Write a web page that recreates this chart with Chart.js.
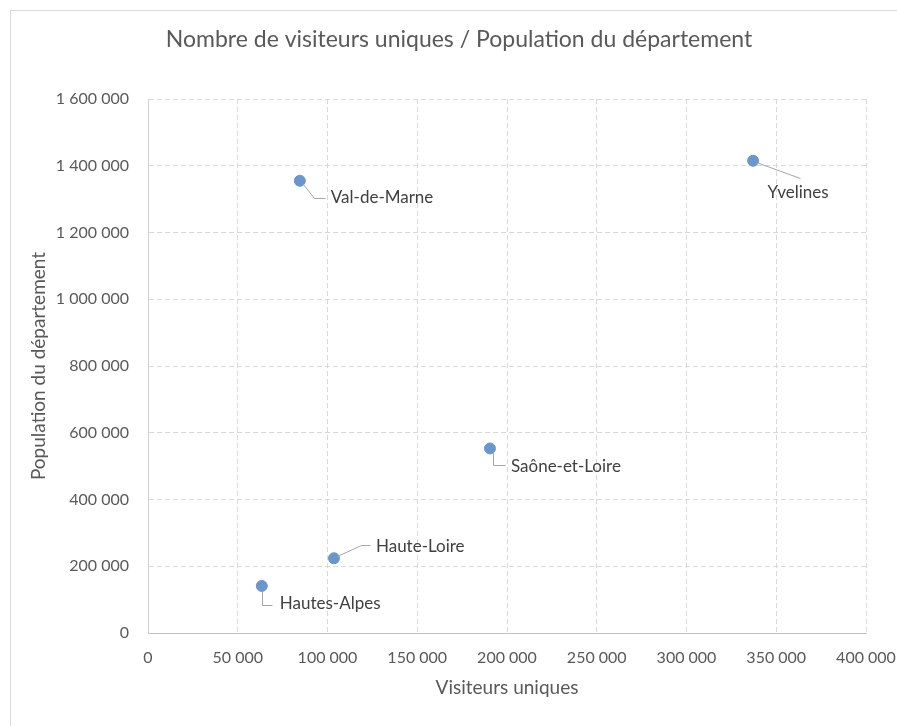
<!DOCTYPE html>
<html lang="fr">
<head>
<meta charset="utf-8">
<title>Visiteurs uniques et population</title>
<script src="https://cdn.jsdelivr.net/npm/chart.js@4/dist/chart.umd.min.js"></script>
<style>
  html, body { margin: 0; padding: 0; background: #ffffff; }
  canvas { display: block; }
</style>
</head>
<body>
<canvas id="chart" width="897" height="726"></canvas>
<script>
// Départements et valeurs
const departements = ['Val-de-Marne', 'Yvelines', 'Saône-et-Loire', 'Haute-Loire', 'Hautes-Alpes'];
const visiteursUniques = [84600, 337100, 190500, 103600, 63400];
const populationDepartement = [1355000, 1415000, 553000, 224000, 141000];

// Axes
const axeX = { min: 0, max: 400000, pas: 50000 };
const axeY = { min: 0, max: 1600000, pas: 200000 };

const titreGraphique = 'Nombre de visiteurs uniques / Population du département';
const titreAxeX = 'Visiteurs uniques';
const titreAxeY = 'Population du département';

// Placement des étiquettes : ligne de rappel et ancrage du texte, en pixels
// relatifs au point (dx, dy), et alignement horizontal du texte
const placementEtiquettes = [
  { ligne: [[3, 3], [14, 17], [25, 17]], texte: [31, 17], align: 'left' },
  { ligne: [[3, 1], [47, 17]], texte: [45, 32], align: 'center' },
  { ligne: [[3, 4], [3, 17], [15, 17]], texte: [21, 18], align: 'left' },
  { ligne: [[3, -2], [27, -13], [36, -13]], texte: [42, -12], align: 'left' },
  { ligne: [[0, 5], [0, 19], [10, 19]], texte: [18, 18], align: 'left' }
];

const police = 'Lato, "Open Sans", sans-serif';
const gris = '#595959';

function formatMilliers(v) {
  return String(v).replace(/\B(?=(\d{3})+(?!\d))/g, ' ');
}

const points = visiteursUniques.map((x, i) => ({ x: x, y: populationDepartement[i] }));

// Cadre extérieur
const cadre = {
  id: 'cadre',
  beforeDraw(chart) {
    const ctx = chart.ctx;
    ctx.save();
    ctx.strokeStyle = '#d9d9d9';
    ctx.lineWidth = 1;
    ctx.strokeRect(10.5, 10.5, 1000, 1000);
    ctx.restore();
  }
};

// Étiquettes de données avec lignes de rappel
const etiquettes = {
  id: 'etiquettes',
  afterDatasetsDraw(chart) {
    const ctx = chart.ctx;
    const meta = chart.getDatasetMeta(0);
    ctx.save();
    meta.data.forEach((el, i) => {
      const p = placementEtiquettes[i];
      const px = el.x, py = el.y;
      ctx.beginPath();
      ctx.strokeStyle = '#a6a6a6';
      ctx.lineWidth = 1;
      p.ligne.forEach((pt, k) => {
        const lx = Math.round(px + pt[0]) + 0.5;
        const ly = Math.round(py + pt[1]) + 0.5;
        if (k === 0) ctx.moveTo(lx, ly); else ctx.lineTo(lx, ly);
      });
      ctx.stroke();
      ctx.fillStyle = '#404040';
      ctx.font = '17px ' + police;
      ctx.textAlign = p.align;
      ctx.textBaseline = 'middle';
      ctx.fillText(departements[i], px + p.texte[0], py + p.texte[1]);
    });
    ctx.restore();
  }
};

new Chart(document.getElementById('chart'), {
  type: 'scatter',
  data: {
    datasets: [{
      label: titreGraphique,
      data: points,
      backgroundColor: '#6a96cc',
      borderColor: '#6a96cc',
      pointRadius: 5.5,
      pointHoverRadius: 5.5
    }]
  },
  options: {
    responsive: false,
    animation: false,
    devicePixelRatio: 1,
    layout: { padding: { left: 21, right: 0, top: 0, bottom: 0 } },
    plugins: {
      legend: { display: false },
      tooltip: { enabled: false },
      title: {
        display: true,
        text: titreGraphique,
        color: gris,
        font: { family: police, size: 23, weight: 'normal', lineHeight: 1.2 },
        padding: { top: 26, bottom: 45.4 }
      }
    },
    scales: {
      x: {
        type: 'linear',
        min: axeX.min,
        max: axeX.max,
        afterFit(scale) {
          scale.height = 93;
          scale.paddingLeft = 0;
          scale.paddingRight = 31;
        },
        ticks: {
          stepSize: axeX.pas,
          color: gris,
          padding: 15,
          font: { family: police, size: 16 },
          callback: (v) => formatMilliers(v)
        },
        grid: {
          color: '#d9d9d9',
          drawTicks: false
        },
        border: { display: true, color: '#bfbfbf', width: 1, dash: [5, 3] },
        title: {
          display: true,
          text: titreAxeX,
          color: gris,
          font: { family: police, size: 19 },
          padding: { top: 0, bottom: 26.6 }
        }
      },
      y: {
        type: 'linear',
        min: axeY.min,
        max: axeY.max,
        afterFit(scale) { scale.width = 127; },
        ticks: {
          stepSize: axeY.pas,
          color: gris,
          padding: 19,
          font: { family: police, size: 16 },
          callback: (v) => formatMilliers(v)
        },
        grid: {
          color: '#d9d9d9',
          drawTicks: false
        },
        border: { display: true, color: '#d0d0d0', width: 1, dash: [5, 3] },
        title: {
          display: true,
          text: titreAxeY,
          color: gris,
          font: { family: police, size: 19 },
          padding: { top: 6.6, bottom: 0 }
        }
      }
    }
  },
  plugins: [cadre, etiquettes]
});
</script>
</body>
</html>
